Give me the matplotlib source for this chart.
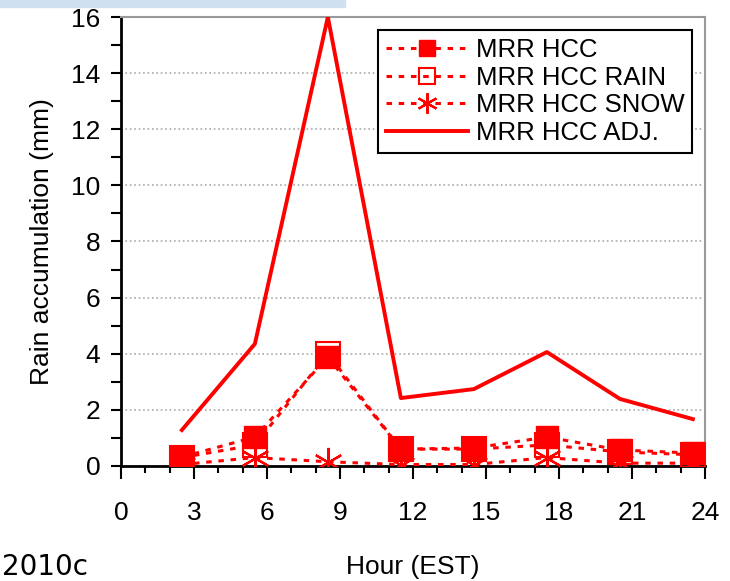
import numpy as np
import matplotlib
matplotlib.use("Agg")
import matplotlib.pyplot as plt
from matplotlib.ticker import MultipleLocator
from matplotlib.patches import Rectangle

plt.rcParams['font.family'] = ['Liberation Sans', 'DejaVu Sans']

# data
hours = [2.5, 5.5, 8.5, 11.5, 14.5, 17.5, 20.5, 23.5]
hcc = [0.32, 1.03, 3.88, 0.6, 0.64, 1.03, 0.57, 0.46]
hcc_rain = [0.3, 0.75, 4.0, 0.6, 0.6, 0.75, 0.5, 0.4]
hcc_snow = [0.05, 0.3, 0.15, 0.05, 0.05, 0.3, 0.1, 0.1]
hcc_adj = [1.28, 4.35, 16.0, 2.42, 2.74, 4.06, 2.39, 1.67]

red = '#ff0000'
dots = (0, (1.8, 2.2))

fig = plt.figure(figsize=(7.3, 5.81), dpi=100)
ax = fig.add_axes([0.1658, 0.198, 0.8, 0.7727])

ax.plot(hours, hcc_snow, linestyle=dots, color=red, lw=2.2,
        marker=(6, 2, 0), ms=21, mew=1.6, mec=red, label='MRR HCC SNOW', zorder=3)
ax.plot(hours, hcc_rain, linestyle=dots, color=red, lw=2.2,
        marker='s', ms=17, mfc='none', mew=1.5, mec=red, label='MRR HCC RAIN', zorder=3)
ax.plot(hours, hcc, linestyle=dots, color=red, lw=2.2,
        marker='s', ms=16, mfc=red, mec=red, label='MRR HCC', zorder=4)
ax.plot(hours, hcc_adj, '-', color=red, lw=2.8, label='MRR HCC ADJ.', zorder=5)

ax.set_xlim(0, 24)
ax.set_ylim(0, 16)
ax.xaxis.set_major_locator(MultipleLocator(3))
ax.xaxis.set_minor_locator(MultipleLocator(1))
ax.yaxis.set_major_locator(MultipleLocator(2))
ax.yaxis.set_minor_locator(MultipleLocator(1))
ax.tick_params(which='both', direction='out', labelsize=19, width=1.5, colors='black')
ax.tick_params(axis='x', which='major', length=9, pad=16)
ax.tick_params(axis='x', which='minor', length=5)
ax.tick_params(axis='y', which='both', length=7, pad=8)
ax.yaxis.grid(True, which='major', linestyle=':', color='#aaaaaa', lw=1.2)
ax.set_axisbelow(True)

for s in ['left', 'bottom']:
    ax.spines[s].set_linewidth(2)
    ax.spines[s].set_color('black')
for s in ['top', 'right']:
    ax.spines[s].set_linewidth(1.5)
    ax.spines[s].set_color('#999999')

ax.set_xlabel('Hour (EST)', fontsize=19, labelpad=22)
ax.set_ylabel('Rain accumulation (mm)', fontsize=19, labelpad=12)

handles, labels = ax.get_legend_handles_labels()
order = [2, 1, 0, 3]
leg = ax.legend([handles[i] for i in order], [labels[i] for i in order],
                loc='upper right', bbox_to_anchor=(0.978, 0.971), borderaxespad=0,
                fontsize=18.5, frameon=True, fancybox=False, edgecolor='black',
                framealpha=1, handlelength=3.2, handletextpad=0.3,
                labelspacing=0.15, borderpad=0.3, markerscale=0.7)
leg.get_frame().set_linewidth(1.5)

# cropped pieces around the chart
fig.patches.append(Rectangle((0, 0.988), 345 / 730, 0.02, transform=fig.transFigure,
                             color='#cfe0f1', zorder=0))
fig.text(0.003, 0.0, '2010c', fontsize=20, ha='left', va='bottom',
         family=['DejaVu Sans'])

fig.savefig('out.png', dpi=100)
